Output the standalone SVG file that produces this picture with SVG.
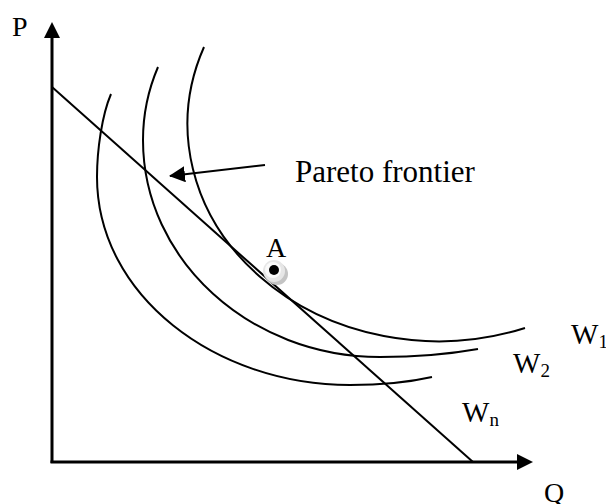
<svg xmlns="http://www.w3.org/2000/svg" width="606" height="504" viewBox="0 0 606 504">
<style>
.t{font-family:"Liberation Serif","Times New Roman",serif;fill:#000}
.ln{fill:none;stroke:#000;stroke-width:2}
.ax{fill:none;stroke:#000;stroke-width:3}
</style>
<defs>
<marker id="ah" markerWidth="16" markerHeight="16" viewBox="0 0 16 16" refX="15" refY="8" orient="auto" markerUnits="userSpaceOnUse">
<path d="M0,0 L16,8 L0,16 Z" fill="#000"/>
</marker>
</defs>
<rect width="606" height="504" fill="#fff"/>
<g id="connectors">
<line class="ax" x1="52" y1="463" x2="52" y2="37"/>
<polygon points="52,22 44,38 60,38" fill="#000"/>
<line class="ax" x1="50.5" y1="462" x2="518" y2="462"/>
<polygon points="533,462 517,454 517,470" fill="#000"/>
<line class="ln" x1="52" y1="87" x2="473" y2="462"/>
<path class="ln" d="M204,47 A251,217 0 0 0 525,328"/>
<path class="ln" d="M158,67 C149,88 143,115 143,140 C143,260 250,357 380,357 C420,357 450,354 478,349"/>
<path class="ln" d="M111,94 C102,115 97,150 97,177 C97,295 215,385 350,385 C385,385 410,382 432,377"/>
<line class="ln" stroke-width="2.5" x1="265" y1="165" x2="170" y2="176" marker-end="url(#ah)"/>
</g>
<g id="pointA">
<circle cx="277" cy="274" r="11" fill="#c4c4c4"/>
<circle cx="274" cy="271" r="11" fill="#e6e6e6"/>
<circle cx="273" cy="270" r="8" fill="#fafafa"/>
<circle cx="274" cy="270" r="5" fill="#000"/>
<text class="t" x="276" y="257" font-size="28" text-anchor="middle">A</text>
</g>
<g id="labels">
<text class="t" x="12" y="36" font-size="28">P</text>
<text class="t" x="544" y="502" font-size="28">Q</text>
<text class="t" x="295" y="182" font-size="31">Pareto frontier</text>
<text class="t" x="571" y="344" font-size="29">W<tspan font-size="19" dy="4">1</tspan></text>
<text class="t" x="513" y="373" font-size="29">W<tspan font-size="19" dy="4">2</tspan></text>
<text class="t" x="462" y="422" font-size="29">W<tspan font-size="19" dy="4">n</tspan></text>
</g>
</svg>
